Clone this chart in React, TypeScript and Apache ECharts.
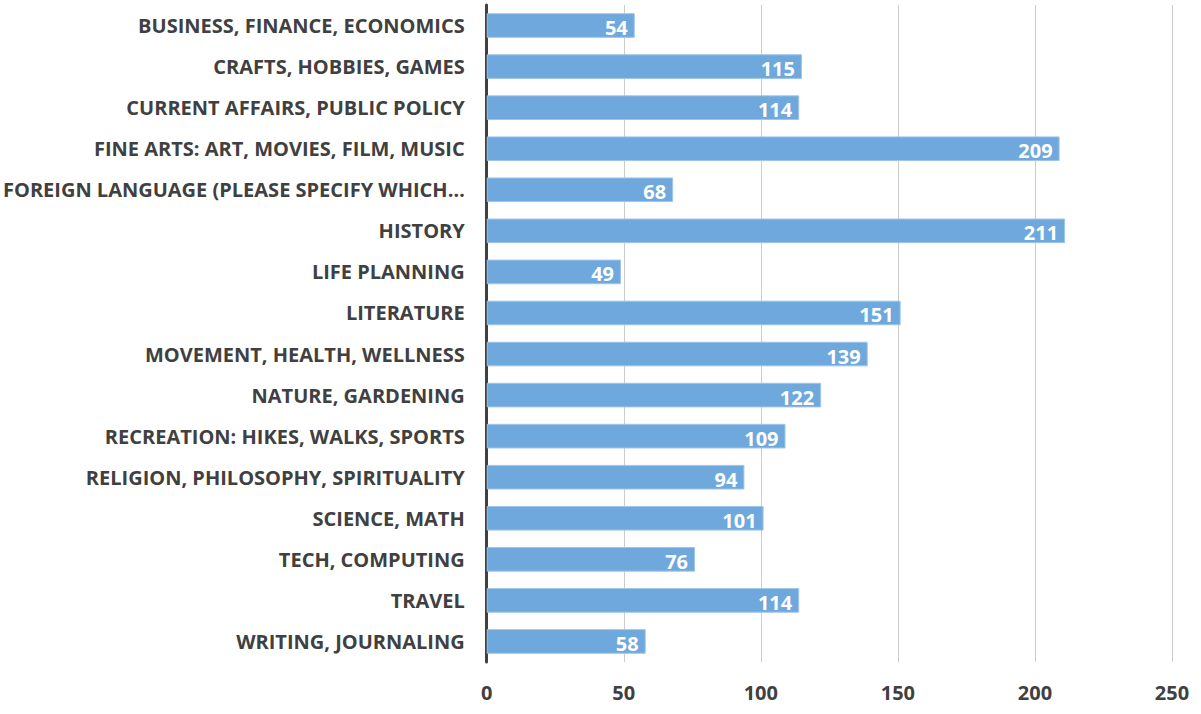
import React, { useEffect, useRef } from "react";
import * as echarts from "echarts";

const categories = [
  "BUSINESS, FINANCE, ECONOMICS",
  "CRAFTS, HOBBIES, GAMES",
  "CURRENT AFFAIRS, PUBLIC POLICY",
  "FINE ARTS: ART, MOVIES, FILM, MUSIC",
  "FOREIGN LANGUAGE (PLEASE SPECIFY WHICH…",
  "HISTORY",
  "LIFE PLANNING",
  "LITERATURE",
  "MOVEMENT, HEALTH, WELLNESS",
  "NATURE, GARDENING",
  "RECREATION: HIKES, WALKS, SPORTS",
  "RELIGION, PHILOSOPHY, SPIRITUALITY",
  "SCIENCE, MATH",
  "TECH, COMPUTING",
  "TRAVEL",
  "WRITING, JOURNALING",
];
const values = [54, 115, 114, 209, 68, 211, 49, 151, 139, 122, 109, 94, 101, 76, 114, 58];

const FONT = "'Liberation Sans Narrow', 'Open Sans', sans-serif";

export default function App() {
  const ref = useRef<HTMLDivElement>(null);
  useEffect(() => {
    if (!ref.current) return;
    const chart = echarts.init(ref.current, undefined, { renderer: "svg" });
    chart.setOption({
      animation: false,
      grid: { left: 485, right: 29, top: 5, bottom: 52, containLabel: false },
      xAxis: {
        type: "value",
        min: 0,
        max: 250,
        interval: 50,
        axisLine: { show: false },
        axisTick: { show: false },
        splitLine: { show: true, lineStyle: { color: "#cccccc", width: 1 } },
        axisLabel: { color: "#404040", fontSize: 20, fontWeight: "bold", fontFamily: FONT, margin: 20 },
      },
      yAxis: {
        type: "category",
        data: categories,
        inverse: true,
        axisLine: { show: true, lineStyle: { color: "#404040", width: 3 } },
        axisTick: { show: false },
        axisLabel: { color: "#404040", fontSize: 20, fontWeight: "bold", fontFamily: FONT, margin: 22 },
      },
      series: [
        {
          type: "bar",
          data: values,
          barCategoryGap: "40%",
          itemStyle: { color: "#6fa8dc", borderColor: "#9fc5e8", borderWidth: 1 },
          label: {
            show: true,
            position: "insideRight",
            color: "#ffffff",
            fontSize: 20,
            fontWeight: "bold",
            fontFamily: FONT,
            offset: [-2, 2],
          },
        },
      ],
    });
    return () => chart.dispose();
  }, []);
  return <div ref={ref} style={{ width: 1201, height: 714, position: "absolute", left: 0, top: 0 }} />;
}
